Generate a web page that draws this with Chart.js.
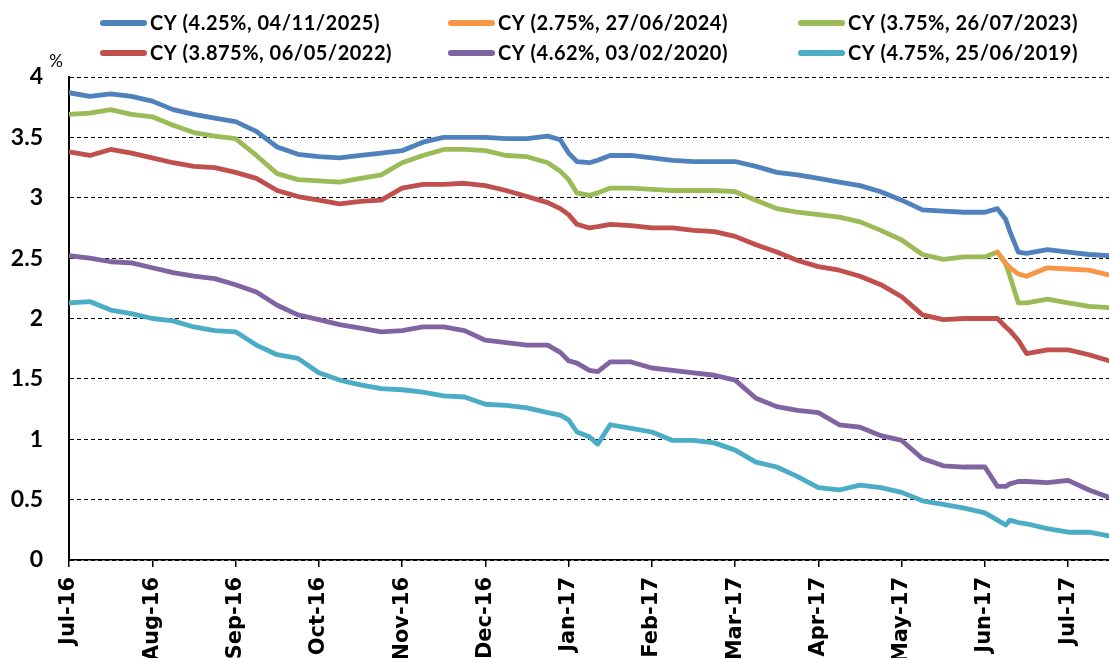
<!DOCTYPE html>
<html>
<head>
<meta charset="utf-8">
<script src="https://cdn.jsdelivr.net/npm/chart.js@4/dist/chart.umd.min.js"></script>
<style>
  html, body { margin: 0; padding: 0; background: #fff; }
  #wrap { width: 1109px; height: 658px; position: relative; }
</style>
</head>
<body>
<div id="wrap"><canvas id="chart" width="1109" height="658"></canvas></div>
<script>
// month tick labels (x axis: months since 1 Jul 2016)
const monthLabels = ["Jul-16", "Aug-16", "Sep-16", "Oct-16", "Nov-16", "Dec-16",
  "Jan-17", "Feb-17", "Mar-17", "Apr-17", "May-17", "Jun-17", "Jul-17"];

// observation times, in months from Jul-16
const t = [0, 0.25, 0.5, 0.75, 1, 1.25, 1.5, 1.75, 2, 2.25, 2.5, 2.75, 3, 3.25, 3.5, 3.75,
  4, 4.25, 4.5, 4.75, 5, 5.25, 5.5, 5.75, 5.9, 6, 6.1, 6.25, 6.35, 6.5, 6.75,
  7, 7.25, 7.5, 7.75, 8, 8.25, 8.5, 8.75, 9, 9.25, 9.5, 9.75, 10, 10.25, 10.5, 10.75,
  11, 11.15, 11.25, 11.3, 11.4, 11.5, 11.75, 12, 12.25, 12.49];

const cy2025 = [3.87, 3.84, 3.86, 3.84, 3.80, 3.73, 3.69, 3.66, 3.63, 3.55, 3.42, 3.36, 3.34, 3.33, 3.35, 3.37,
  3.39, 3.46, 3.50, 3.50, 3.50, 3.49, 3.49, 3.51, 3.48, 3.37, 3.30, 3.29, 3.31, 3.35, 3.35,
  3.33, 3.31, 3.30, 3.30, 3.30, 3.26, 3.21, 3.19, 3.16, 3.13, 3.10, 3.05, 2.98, 2.90, 2.89, 2.88,
  2.88, 2.91, 2.82, 2.72, 2.55, 2.54, 2.57, 2.55, 2.53, 2.52];

const cy2024 = [null, null, null, null, null, null, null, null, null, null, null, null, null, null, null, null,
  null, null, null, null, null, null, null, null, null, null, null, null, null, null, null,
  null, null, null, null, null, null, null, null, null, null, null, null, null, null, null, null,
  null, 2.55, 2.46, 2.42, 2.37, 2.35, 2.42, 2.41, 2.40, 2.36];

const cy2023 = [3.69, 3.70, 3.73, 3.69, 3.67, 3.60, 3.54, 3.51, 3.49, 3.35, 3.20, 3.15, 3.14, 3.13, 3.16, 3.19,
  3.29, 3.35, 3.40, 3.40, 3.39, 3.35, 3.34, 3.29, 3.22, 3.15, 3.04, 3.02, 3.04, 3.08, 3.08,
  3.07, 3.06, 3.06, 3.06, 3.05, 2.98, 2.91, 2.88, 2.86, 2.84, 2.80, 2.73, 2.65, 2.53, 2.49, 2.51,
  2.51, 2.55, 2.45, 2.35, 2.13, 2.13, 2.16, 2.13, 2.10, 2.09];

const cy2022 = [3.38, 3.35, 3.40, 3.37, 3.33, 3.29, 3.26, 3.25, 3.21, 3.16, 3.06, 3.01, 2.98, 2.95, 2.97, 2.98,
  3.08, 3.11, 3.11, 3.12, 3.10, 3.06, 3.01, 2.96, 2.91, 2.86, 2.78, 2.75, 2.76, 2.78, 2.77,
  2.75, 2.75, 2.73, 2.72, 2.68, 2.61, 2.55, 2.48, 2.43, 2.40, 2.35, 2.28, 2.18, 2.03, 1.99, 2.00,
  2.00, 2.00, 1.93, 1.90, 1.82, 1.71, 1.74, 1.74, 1.70, 1.65];

const cy2020 = [2.52, 2.50, 2.47, 2.46, 2.42, 2.38, 2.35, 2.33, 2.28, 2.22, 2.11, 2.03, 1.99, 1.95, 1.92, 1.89,
  1.90, 1.93, 1.93, 1.90, 1.82, 1.80, 1.78, 1.78, 1.72, 1.65, 1.63, 1.57, 1.56, 1.64, 1.64,
  1.59, 1.57, 1.55, 1.53, 1.49, 1.34, 1.27, 1.24, 1.22, 1.12, 1.10, 1.03, 0.99, 0.84, 0.78, 0.77,
  0.77, 0.61, 0.61, 0.63, 0.65, 0.65, 0.64, 0.66, 0.58, 0.52];

const cy2019 = [2.13, 2.14, 2.07, 2.04, 2.00, 1.98, 1.93, 1.90, 1.89, 1.78, 1.70, 1.67, 1.55, 1.49, 1.45, 1.42,
  1.41, 1.39, 1.36, 1.35, 1.29, 1.28, 1.26, 1.22, 1.20, 1.16, 1.06, 1.02, 0.96, 1.12, 1.09,
  1.06, 0.99, 0.99, 0.97, 0.91, 0.81, 0.77, 0.69, 0.60, 0.58, 0.62, 0.60, 0.56, 0.49, 0.46, 0.43,
  0.39, 0.33, 0.29, 0.33, 0.31, 0.30, 0.26, 0.23, 0.23, 0.20];

const seriesNames = ["CY (4.25%, 04/11/2025)", "CY (2.75%, 27/06/2024)", "CY (3.75%, 26/07/2023)",
  "CY (3.875%, 06/05/2022)", "CY (4.62%, 03/02/2020)", "CY (4.75%, 25/06/2019)"];
const seriesValues = [cy2025, cy2024, cy2023, cy2022, cy2020, cy2019];
const seriesColors = ["#4F81BD", "#F79646", "#9BBB59", "#C0504D", "#8064A2", "#4BACC6"];

const yTicks = [0, 0.5, 1, 1.5, 2, 2.5, 3, 3.5, 4];

const datasets = seriesValues.map((vals, i) => ({
  label: seriesNames[i],
  data: vals.map((v, k) => ({ x: t[k], y: v })),
  borderColor: seriesColors[i],
  backgroundColor: seriesColors[i],
  borderWidth: 4.8,
  pointRadius: 0,
  tension: 0,
  spanGaps: false,
  borderJoinStyle: "round",
  borderCapStyle: "round",
}));

// legend in 3 columns x 2 rows, plus the "%" unit label
const legendPlugin = {
  id: "gridLegend",
  afterDraw(chart) {
    const ctx = chart.ctx;
    const colX = [100, 448, 798];
    const rowY = [23, 53];
    ctx.save();
    chart.data.datasets.forEach((ds, i) => {
      const x = colX[i % 3];
      const y = rowY[Math.floor(i / 3)];
      ctx.strokeStyle = ds.borderColor;
      ctx.lineWidth = 6;
      ctx.lineCap = "round";
      ctx.beginPath();
      ctx.moveTo(x + 3, y);
      ctx.lineTo(x + 44, y);
      ctx.stroke();
      ctx.fillStyle = "#000";
      ctx.font = "bold 20px Lato";
      ctx.letterSpacing = "0.5px";
      ctx.textBaseline = "middle";
      ctx.textAlign = "left";
      ctx.fillText(ds.label, x + 50, y + 1);
    });
    ctx.letterSpacing = "0px";
    ctx.font = "17px Lato";
    ctx.textAlign = "center";
    ctx.fillText("%", 56, 62);
    ctx.restore();
  },
};

new Chart(document.getElementById("chart"), {
  type: "line",
  data: { datasets },
  plugins: [legendPlugin],
  options: {
    responsive: false,
    animation: false,
    layout: { padding: { top: 77, right: 0, left: 0, bottom: 0 } },
    plugins: {
      legend: { display: false },
      tooltip: { enabled: false },
    },
    scales: {
      x: {
        type: "linear",
        min: 0,
        max: 12.49,
        afterFit(scale) { scale.height = 98; },
        grid: { drawOnChartArea: false, drawTicks: true, tickLength: 7, tickColor: "#000", lineWidth: 1.5 },
        border: { display: true, color: "#000", width: 1.5 },
        ticks: {
          stepSize: 1,
          includeBounds: false,
          autoSkip: false,
          minRotation: 90,
          maxRotation: 90,
          padding: 10,
          color: "#000",
          font: { family: "DejaVu Sans", size: 21, weight: "bold" },
          callback: (v) => monthLabels[v],
        },
      },
      y: {
        min: 0,
        max: 4,
        afterFit(scale) { scale.width = 69; },
        afterBuildTicks(scale) { scale.ticks = yTicks.map((v) => ({ value: v })); },
        grid: { color: "#000", lineWidth: 1, drawTicks: false },
        border: { display: true, color: "#000", width: 2, dash: [4, 3] },
        ticks: {
          padding: 26,
          color: "#000",
          font: { family: "Lato", size: 23, weight: "bold" },
          callback: (v) => String(v),
        },
      },
    },
  },
});
</script>
</body>
</html>
